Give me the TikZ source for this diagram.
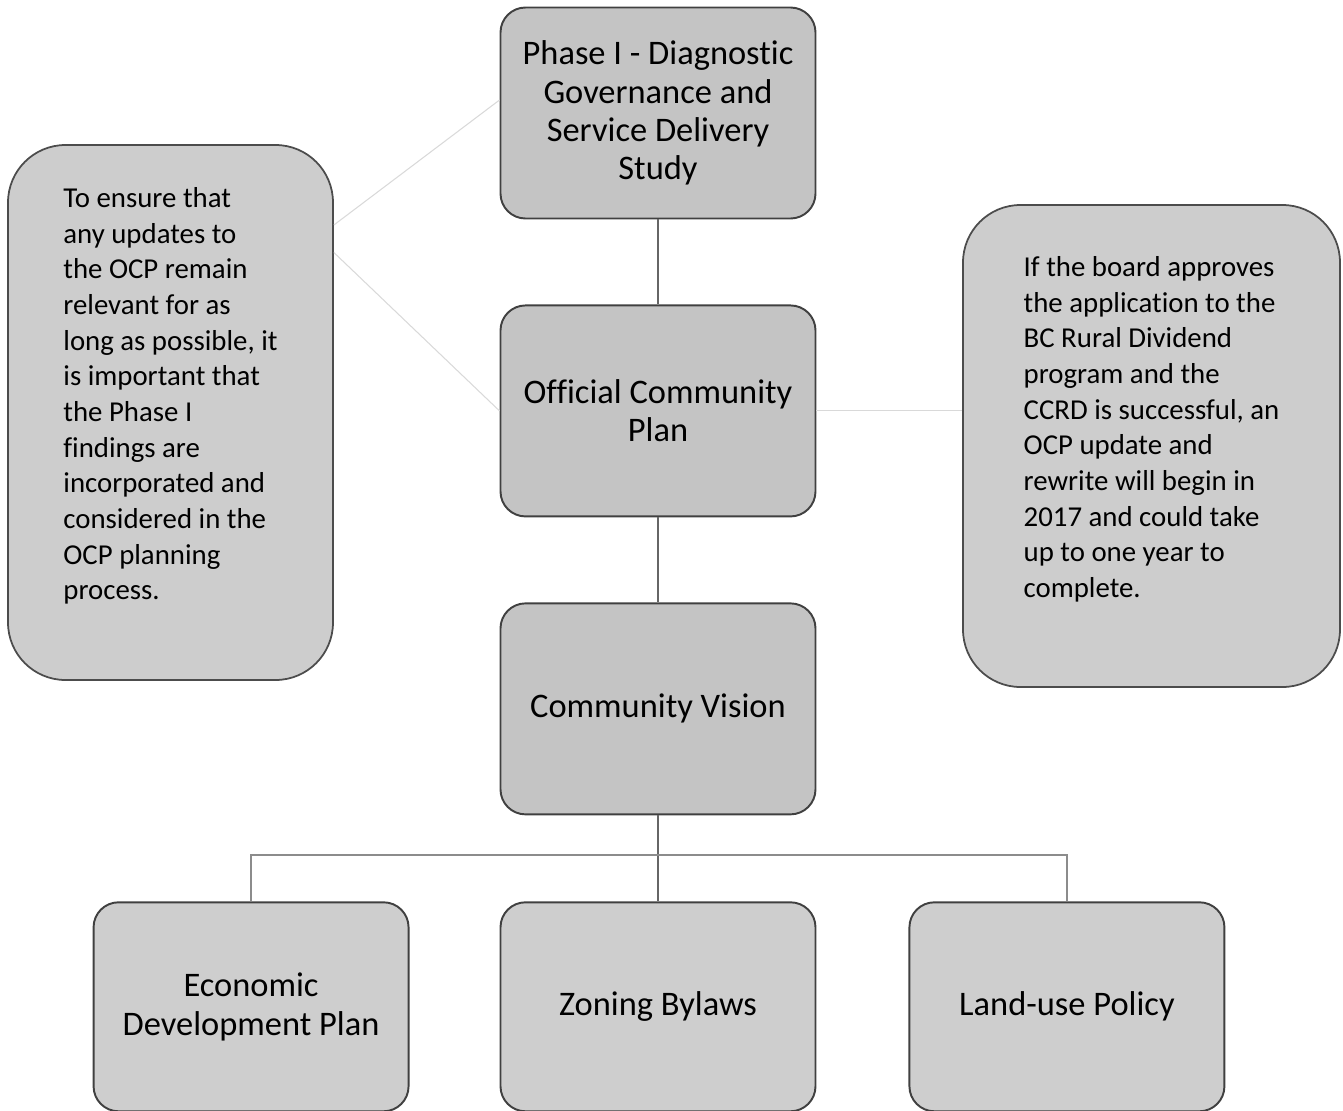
\documentclass[tikz,border=0pt]{standalone}
\usepackage{fontspec}
\setmainfont{Carlito}[Ligatures={NoCommon}]
\usetikzlibrary{positioning}
\definecolor{stepgray}{HTML}{C4C4C4}
\definecolor{leafgray}{HTML}{CECECE}
\definecolor{notegray}{HTML}{CDCDCD}

\begin{document}
\begin{tikzpicture}[
box/.style={draw=black!75,line width=1.1pt,rounded corners=0.5cm,fill=stepgray,
  minimum width=6.3cm,minimum height=4.22cm,align=center,
  font=\fontsize{19.6}{21.8}\selectfont},
leaf/.style={box,fill=leafgray,minimum height=4.18cm},
note/.style={draw=black!70,line width=1pt,rounded corners=1.15cm,fill=notegray,
  font=\fontsize{16.4}{20.3}\selectfont},
link/.style={draw=black!60,line width=0.8pt},
faint/.style={draw=black!15,line width=0.6pt}]
\useasboundingbox (0,0) rectangle (26.86,-22.22);

% main chain
\node[box] (phase) at (13.16,-2.26) {Phase I - Diagnostic\\Governance and\\Service Delivery\\Study};
\node[box,below=1.7cm of phase] (ocp) {Official Community\\Plan};
\node[box,below=1.7cm of ocp] (vision) {Community Vision};

% bottom row
\node[leaf,below=1.72cm of vision] (zoning) {Zoning Bylaws};
\node[leaf,left=1.8cm of zoning] (econ) {Economic\\Development Plan};
\node[leaf,right=1.84cm of zoning] (landuse) {Land-use Policy};

% side notes
\node[note,minimum width=6.5cm,minimum height=10.7cm] (why) at (3.41,-8.25)
  {\begin{tabular}{@{}l@{}}To ensure that\\any updates to\\the OCP remain\\relevant for as\\long as possible, it\\is important that\\the Phase I\\findings are\\incorporated and\\considered in the\\OCP planning\\process.\\[0.64cm]\end{tabular}};
\node[note,minimum width=7.54cm,minimum height=9.64cm] (when) at (23.03,-8.92)
  {\begin{tabular}{@{}l@{}}If the board approves\\the application to the\\BC Rural Dividend\\program and the\\CCRD is successful, an\\OCP update and\\rewrite will begin in\\2017 and could take\\up to one year to\\complete.\\[0.64cm]\end{tabular}};

\coordinate (bus) at (0,-17.1);

\draw[link] (phase) -- (ocp);
\draw[link] (ocp) -- (vision);
\draw[link] (vision) -- (zoning);
\draw[link,draw=black!45] (econ.north) |- (landuse.north |- bus) -- (landuse.north);

\draw[faint] ([yshift=3.75cm]why.east) -- ([yshift=0.26cm]phase.west);
\draw[faint] ([yshift=3.2cm]why.east) -- (ocp.west);
\draw[faint] (when.west |- ocp.east) -- (ocp.east);
\end{tikzpicture}
\end{document}
